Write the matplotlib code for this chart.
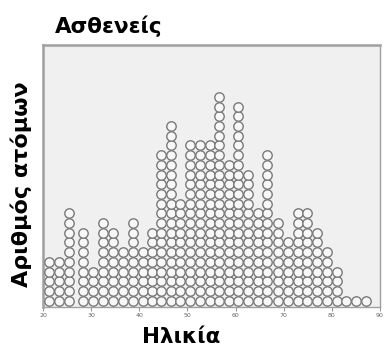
import numpy as np
import matplotlib
matplotlib.use("Agg")
import matplotlib.pyplot as plt

# dot columns: age position of each stack and how many dots it holds
ages = [21.3, 23.4, 25.5, 28.3, 30.3, 32.4, 34.5, 36.6, 38.6, 40.7,
        42.6, 44.5, 46.6, 48.5, 50.5, 52.6, 54.7, 56.6, 58.6, 60.5,
        62.6, 64.7, 66.6, 68.8, 70.8, 72.9, 74.8, 76.9, 78.9, 81.0,
        83.0, 85.0, 87.0]
counts = [5, 5, 10, 8, 4, 9, 8, 6, 9, 6,
          8, 16, 19, 11, 17, 17, 17, 22, 15, 21,
          14, 10, 16, 9, 7, 10, 10, 8, 6, 4,
          1, 1, 1]
xticks = [20, 30, 40, 50, 60, 70, 80, 90]

title = "Ασθενείς"
xlabel = "Ηλικία"
ylabel = "Αριθμός ατόμων"

plt.rcParams['font.family'] = ['DejaVu Sans']

fig = plt.figure(figsize=(3.87, 3.51), dpi=100)
ax = fig.add_axes([43/387, 1 - 307/351, 337/387, 262/351])
ax.set_facecolor('#f0f0f0')

# stack the dots
xs, ys = [], []
for a, c in zip(ages, counts):
    for k in range(c):
        xs.append(a)
        ys.append(k + 1)
ax.scatter(xs, ys, s=46, facecolor='#f7f7f7', edgecolor='#7a7a7a',
           linewidths=1.0, zorder=3)

ax.set_xlim(20, 90)
ax.set_ylim(0.35, 0.35 + 262/9.7)
ax.set_xticks(xticks)
ax.set_xticklabels([str(t) for t in xticks], fontsize=4.5, color='#666666')
ax.tick_params(axis='x', length=3, width=0.8, color='#999999', pad=1.5)
ax.set_yticks([])

for side in ['left', 'top']:
    ax.spines[side].set_color('#a0a0a0')
    ax.spines[side].set_linewidth(1.8)
for side in ['right', 'bottom']:
    ax.spines[side].set_color('#a0a0a0')
    ax.spines[side].set_linewidth(1.0)

fig.text(55/387, 1 - 33/351, title, fontsize=15.5, fontweight='bold',
         ha='left', va='baseline')
fig.text(181/387, 1 - 337/351, xlabel, fontsize=15.5, fontweight='bold',
         ha='center', va='center')
fig.text(21/387, 1 - 184/351, ylabel, fontsize=16, fontweight='bold',
         ha='center', va='center', rotation=90)

fig.savefig("out.png", dpi=100)
